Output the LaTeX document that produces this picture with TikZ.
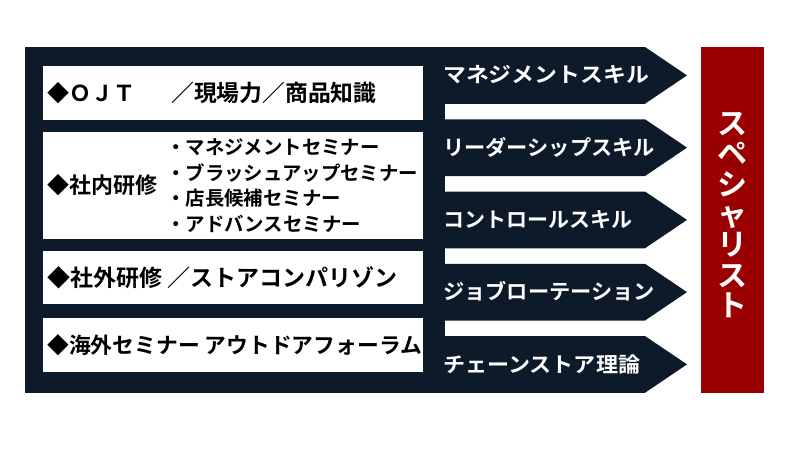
\documentclass[tikz,border=0pt]{standalone}
\usepackage{fontspec}
\newfontfamily\jp{Noto Sans CJK JP Bold}
\definecolor{navy}{HTML}{0D1A29}
\definecolor{deepred}{HTML}{9B0000}
\begin{document}
\begin{tikzpicture}[x=1pt,y=-1pt,
  lbox/.style={fill=white,draw=none},
  ltext/.style={anchor=west,inner sep=0pt,text=black,font=\jp\fontsize{22}{26}\selectfont},
  btext/.style={anchor=west,inner sep=0pt,text=black,align=left,font=\jp\fontsize{19.4}{25.7}\selectfont},
  rtext/.style={anchor=west,inner sep=0pt,text=white,font=\jp\fontsize{21}{25}\selectfont},
  vtext/.style={inner sep=0pt,text=white,align=center,font=\jp\fontsize{30}{30.3}\selectfont}]
\useasboundingbox (0,0) rectangle (800,456);
% dark background with arrow bands
\def\h{56.75}
\fill[navy] (25,47) rectangle (445,393);
\foreach \i in {0,...,4}{
  \fill[navy] (440,{47+72.25*\i}) -- (645,{47+72.25*\i}) -- (687,{47+72.25*\i+\h/2})
    -- (645,{47+72.25*\i+\h}) -- (440,{47+72.25*\i+\h}) -- cycle;
}
% white boxes
\fill[lbox] (43,66) rectangle (423,120);
\fill[lbox] (43,132) rectangle (423,239);
\fill[lbox] (43,251) rectangle (423,304);
\fill[lbox] (43,318) rectangle (423,372);
% left texts
\node[ltext] (ojt) at (47,93) {◆ＯＪＴ　\hspace{14pt}{\fontsize{22.8}{26}\selectfont ／現場力／商品知識}};
\node[ltext] (shanai) at (47,185.5) {◆社内研修};
\node[btext] (list) at (166,185.5) {・マネジメントセミナー\\・ブラッシュアップセミナー\\・店長候補セミナー\\・アドバンスセミナー};
\node[ltext,font=\jp\fontsize{23}{26}\selectfont] (shagai) at (47,277.5) {◆社外研修 ／ストアコンパリゾン};
\node[ltext,font=\jp\fontsize{21.8}{26}\selectfont] (kaigai) at (47,345) {◆海外セミナー アウトドアフォーラム};
% right labels
\node[rtext] (r1) at (443,75) {\scalebox{1.09}[1]{マネジメントスキル}};
\node[rtext] (r2) at (443,147.5) {\scalebox{1.01}[1]{リーダーシップスキル}};
\node[rtext] (r3) at (443,220) {コントロールスキル};
\node[rtext] (r4) at (443,291.5) {\scalebox{1.01}[1]{ジョブローテーション}};
\node[rtext] (r5) at (443,364.5) {\scalebox{1.05}[1]{チェーンストア理論}};
% red box
\fill[deepred] (701,47) rectangle (764,393);
\node[vtext] (sp) at (732.5,215) {ス\\ペ\\シ\\ャ\\リ\\ス\\ト};
\end{tikzpicture}
\end{document}
